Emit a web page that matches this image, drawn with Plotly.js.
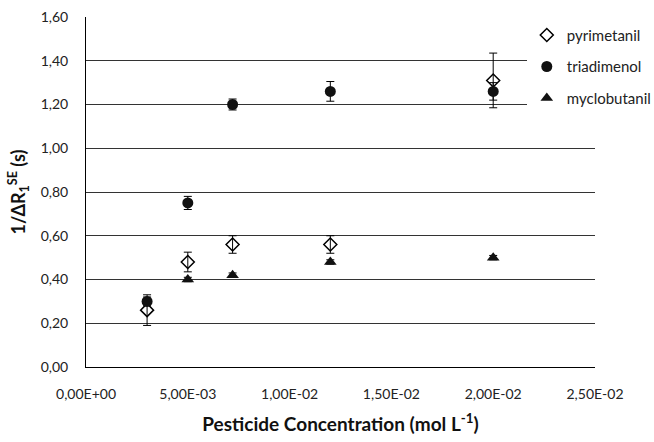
<!DOCTYPE html>
<html>
<head>
<meta charset="utf-8">
<script src="https://cdn.plot.ly/plotly-3.0.1.min.js"></script>
<style>html,body{margin:0;padding:0;background:#fff;}#chart{width:654px;height:442px;}</style>
</head>
<body>
<div id="chart"></div>
<script>
// Concentrations (mol L-1)
const concentrations = [0.003, 0.005, 0.0072, 0.012, 0.020];
const concMyclo = [0.005, 0.0072, 0.012, 0.020];

// 1/ΔR1SE (s)
const pyrimetanil = [0.26, 0.48, 0.56, 0.56, 1.31];
const pyrimetanilErr = [0.07, 0.045, 0.04, 0.04, 0.125];
const triadimenol = [0.30, 0.75, 1.20, 1.26, 1.26];
const triadimenolErr = [0.02, 0.03, 0.025, 0.045, 0.04];
const myclobutanil = [0.40, 0.42, 0.48, 0.50];
const myclobutanilErr = [0.01, 0.01, 0.01, 0.01];

const xTickVals = [0, 0.005, 0.01, 0.015, 0.02, 0.025];
const xTickText = ['0,00E+00', '5,00E-03', '1,00E-02', '1,50E-02', '2,00E-02', '2,50E-02'];
const yTickVals = [0, 0.2, 0.4, 0.6, 0.8, 1.0, 1.2, 1.4, 1.6];

const FONT = 'Lato, "Open Sans", sans-serif';

function errBar(arr) {
  return {type: 'data', array: arr, visible: true, color: '#000', thickness: 1, width: 4};
}

const traces = [
  {
    x: concentrations, y: pyrimetanil, name: 'pyrimetanil', type: 'scatter', mode: 'markers',
    legendgroup: 'a',
    marker: {symbol: 'diamond-open', size: 10, color: '#000', line: {width: 1.5, color: '#000'}},
    error_y: errBar(pyrimetanilErr)
  },
  {
    x: concentrations, y: triadimenol, name: 'triadimenol', type: 'scatter', mode: 'markers',
    legendgroup: 'b',
    marker: {symbol: 'circle', size: 11, color: '#111'},
    error_y: errBar(triadimenolErr)
  },
  {
    x: concMyclo, y: myclobutanil, name: 'myclobutanil', type: 'scatter', mode: 'markers',
    legendgroup: 'c',
    marker: {symbol: 'triangle-up', size: 11, color: '#111'},
    error_y: errBar(myclobutanilErr)
  }
];

const layout = {
  width: 654, height: 442,
  margin: {l: 86, r: 59, t: 17, b: 75, autoexpand: false},
  paper_bgcolor: '#fff', plot_bgcolor: '#fff',
  separators: ',.',
  font: {family: FONT, size: 14, color: '#222'},
  showlegend: true,
  legend: {
    x: 0.866, y: 0.995, xanchor: 'left', yanchor: 'top',
    bgcolor: '#fff', font: {family: FONT, size: 15, color: '#222'},
    tracegroupgap: 9, itemwidth: 30
  },
  xaxis: {
    range: [0, 0.025], tickmode: 'array', tickvals: xTickVals, ticktext: xTickText,
    showgrid: false, zeroline: false, showline: true, linecolor: '#000', linewidth: 1,
    ticks: '', ticklabelstandoff: 14,
    tickfont: {family: FONT, size: 14, color: '#222'},
    title: {text: 'Pesticide Concentration (mol L<sup>-1</sup>)', font: {family: FONT, size: 19, color: '#111', weight: 'bold'}, standoff: 16}
  },
  yaxis: {
    range: [0, 1.6], tickmode: 'array', tickvals: yTickVals, tickformat: '.2f',
    showgrid: true, gridcolor: '#333', gridwidth: 1, zeroline: false,
    showline: true, linecolor: '#000', linewidth: 1,
    ticks: '', ticklabelstandoff: 14,
    tickfont: {family: FONT, size: 14, color: '#222'},
    title: {text: '1/ΔR<sub>1</sub><sup>SE</sup> (s)', font: {family: FONT, size: 18, color: '#111', weight: 'bold'}, standoff: 10}
  }
};

Plotly.newPlot('chart', traces, layout, {displayModeBar: false, staticPlot: true});
</script>
</body>
</html>
